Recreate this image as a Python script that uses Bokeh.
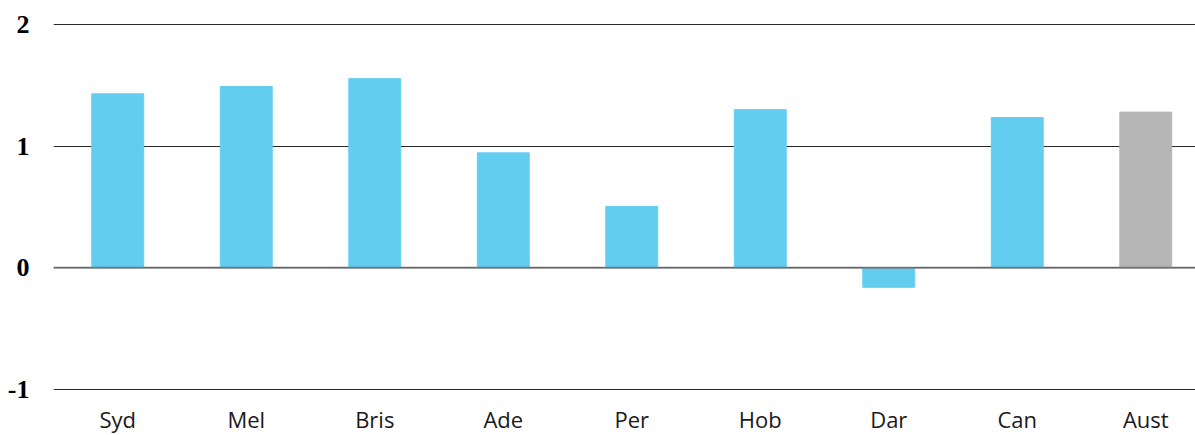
from bokeh.plotting import figure
from bokeh.models import Range1d, FixedTicker, Span, ColumnDataSource
from bokeh.core.properties import value
from bokeh.embed import file_html
from bokeh.resources import INLINE

categories = ["Syd", "Mel", "Bris", "Ade", "Per", "Hob", "Dar", "Can", "Aust"]
values = [1.43, 1.49, 1.555, 0.945, 0.505, 1.30, -0.16, 1.235, 1.28]
colors = ["#63CDF0"] * 8 + ["#B5B5B6"]
y_ticks = [-1, 0, 1, 2]
y_tick_labels = {-1: "-1", 0: "0", 1: "1", 2: "2"}
label_y = -1.245  # category label middle, in axis units below the -1 gridline

xpos = list(range(len(categories)))
src = ColumnDataSource(dict(x=xpos, cat=categories, val=values, color=colors,
                            ly=[label_y] * len(categories)))

# the last category continues past the right edge of the window, as in the original
p = figure(x_range=Range1d(-0.5, 8.387), y_range=Range1d(-1.378, 2.115),
           width=1195, height=435, output_backend="svg", toolbar_location=None,
           min_border_left=53, min_border_right=0, min_border_top=10, min_border_bottom=0)
p.outline_line_color = None
p.background_fill_color = "white"
p.border_fill_color = "white"

p.vbar(x="x", top="val", bottom=0, width=0.404, color="color", source=src)

# category labels
p.text(x="x", y="ly", text="cat", source=src, text_align="center",
       text_baseline="middle", text_font=value("Open Sans"),
       text_font_size="22px", text_color="#1a1a1a")

p.xaxis.visible = False

p.yaxis.ticker = FixedTicker(ticks=y_ticks)
p.yaxis.major_label_overrides = y_tick_labels
p.yaxis.major_label_text_font = "Liberation Serif"
p.yaxis.major_label_text_font_style = "bold"
p.yaxis.major_label_text_font_size = "26px"
p.yaxis.major_label_text_color = "#000000"
p.yaxis.axis_line_color = None
p.yaxis.major_tick_line_color = None
p.yaxis.minor_tick_line_color = None
p.yaxis.major_label_standoff = 18

p.xgrid.grid_line_color = None
p.ygrid.ticker = FixedTicker(ticks=y_ticks)
p.ygrid.grid_line_color = "#262626"
p.ygrid.grid_line_width = 1

p.add_layout(Span(location=0, dimension="width", line_color="#6f6f6f",
                  line_width=2, line_alpha=0.85, level="overlay"))

open("out.html", "w").write(file_html(p, INLINE))
